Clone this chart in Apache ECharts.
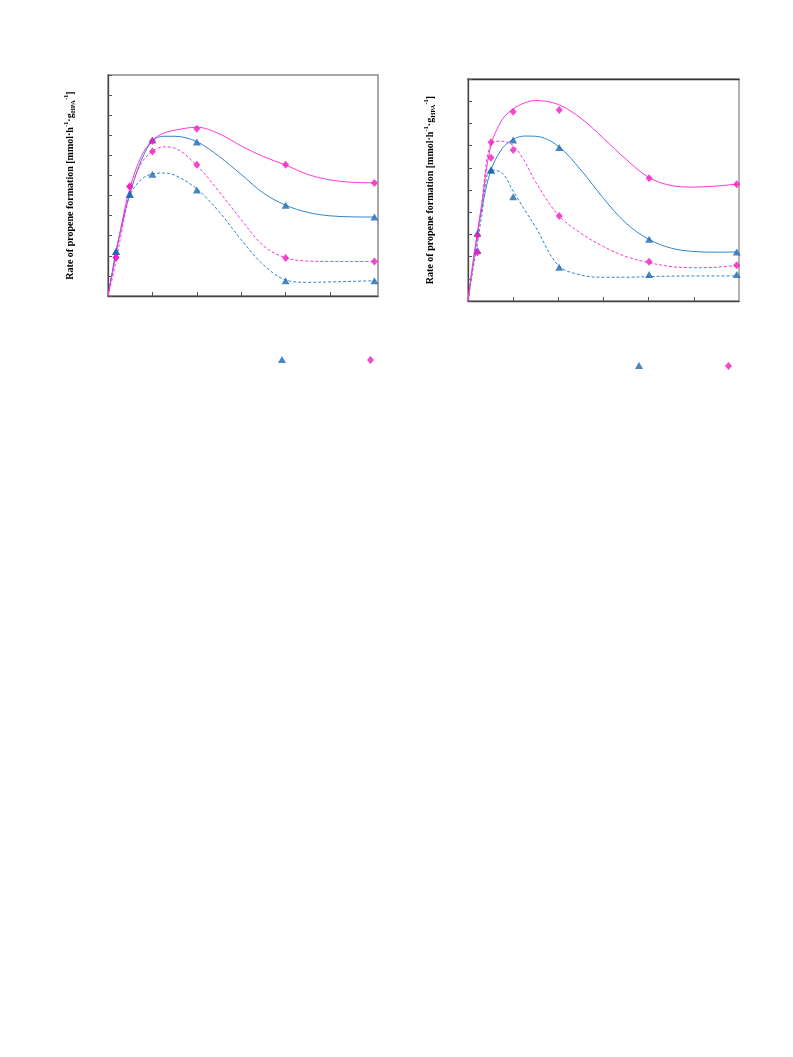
<!DOCTYPE html>
<html>
<head>
<meta charset="utf-8">
<script src="https://cdn.jsdelivr.net/npm/echarts@6/dist/echarts.min.js"></script>
<style>
html,body{margin:0;padding:0;background:#fff;}
#chart{width:793px;height:1057px;}
</style>
</head>
<body>
<div id="chart"></div>
<script>
// ---------- Left panel: measured points ----------
const leftPtX = [0.18, 0.49, 1.0, 2.0, 4.0, 6.0];
const leftBlueSolidPts = [2.22, 5.07, 7.77, 7.67, 4.52, 3.93];
const leftBlueDashPts  = [2.22, 5.07, 6.06, 5.28, 0.76, 0.76];
const leftPinkSolidPts = [1.92, 5.45, 7.72, 8.33, 6.53, 5.62];
const leftPinkDashPts  = [1.92, 5.45, 7.19, 6.53, 1.89, 1.72];

// ---------- Left panel: fitted curves ----------
const leftCurveX = [0, 0.1, 0.18, 0.3, 0.49, 0.75, 1.0, 1.25, 1.5, 2.0, 2.5, 3.0, 3.5, 4.0, 4.5, 5.0, 5.5, 6.0];
const leftBlueSolidCurve = [0, 1.25, 2.22, 3.4, 5.07, 6.75, 7.72, 7.95, 7.95, 7.68, 6.95, 6.05, 5.12, 4.52, 4.16, 3.99, 3.94, 3.93];
const leftBlueDashCurve  = [0, 1.25, 2.22, 3.4, 5.0, 5.8, 6.08, 6.12, 6.02, 5.33, 4.2, 2.8, 1.55, 0.8, 0.68, 0.7, 0.73, 0.76];
const leftPinkSolidCurve = [0, 1.15, 2.05, 3.5, 5.35, 6.95, 7.75, 8.1, 8.25, 8.4, 8.08, 7.47, 6.94, 6.52, 6.05, 5.78, 5.66, 5.63];
const leftPinkDashCurve  = [0, 0.9, 1.75, 3.1, 5.1, 6.6, 7.2, 7.42, 7.36, 6.5, 5.2, 3.8, 2.5, 1.9, 1.74, 1.72, 1.72, 1.72];

// ---------- Right panel: measured points ----------
const rightPtX = [0.21, 0.51, 1.0, 2.02, 4.01, 5.95];
const rightBlueSolidPts = [3.05, 5.9, 7.25, 6.92, 2.78, 2.21];
const rightBlueDashPts  = [2.27, 5.9, 4.7, 1.52, 1.19, 1.19];
const rightPinkSolidPts = [2.95, 6.45, 8.53, 8.6, 5.53, 5.26];
const rightPinkDashPts  = [2.18, 7.15, 6.8, 3.83, 1.77, 1.61];

// ---------- Right panel: fitted curves ----------
const rightCurveX = [0, 0.1, 0.21, 0.3, 0.5, 0.75, 1.0, 1.25, 1.5, 2.0, 2.5, 3.0, 3.5, 4.0, 4.5, 5.0, 5.5, 5.95];
const rightBlueSolidCurve = [0, 1.5, 3.05, 4.1, 5.85, 6.85, 7.28, 7.43, 7.42, 6.97, 5.9, 4.62, 3.5, 2.78, 2.38, 2.23, 2.2, 2.21];
const rightBlueDashCurve  = [0, 1.3, 2.6, 3.8, 5.9, 5.78, 4.95, 4.12, 3.32, 1.6, 1.17, 1.07, 1.07, 1.1, 1.12, 1.13, 1.13, 1.13];
const rightPinkSolidCurve = [0, 1.6, 3.1, 4.3, 6.95, 8.15, 8.65, 8.92, 9.03, 8.85, 8.23, 7.33, 6.38, 5.57, 5.2, 5.13, 5.18, 5.26];
const rightPinkDashCurve  = [0, 1.4, 2.9, 4.3, 7.05, 7.2, 7.0, 6.3, 5.35, 3.87, 3.05, 2.45, 2.0, 1.73, 1.55, 1.5, 1.52, 1.6];

// ---------- Axis settings ----------
const leftXMax = 6.08, leftYMax = 11;
const rightXMax = 6.0, rightYMax = 10;
const xTickValues = [1, 2, 3, 4, 5];

const BLUE_LINE = '#2f86cc';
const BLUE_MARK = '#1a68b2';
const PINK_LINE = '#ff36d8';
const PINK_MARK = '#f01cbf';

function pairs(xs, ys) { return xs.map((x, i) => [x, ys[i]]); }

const yName = '{a|Rate of propene formation [mmol·h}{sup|-1}{a|·g}{sub|HPA}{sup|-1}{a|]}';
const yNameStyle = {
  rich: {
    a: { fontFamily: 'Liberation Serif', fontWeight: 'bold', fontSize: 10, color: '#000', lineHeight: 14 },
    sup: { fontFamily: 'Liberation Serif', fontWeight: 'bold', fontSize: 6.5, color: '#000', verticalAlign: 'top', lineHeight: 14 },
    sub: { fontFamily: 'Liberation Serif', fontWeight: 'bold', fontSize: 6.5, color: '#000', verticalAlign: 'bottom', lineHeight: 14 }
  }
};

function xAxisCfg(grid, max) {
  return {
    gridIndex: grid, type: 'value', min: 0, max: max,
    axisLine: { show: true, onZero: false, lineStyle: { color: '#444', width: 1.3 } },
    axisTick: { show: true, inside: true, length: 4, customValues: xTickValues, lineStyle: { color: '#555', width: 1 } },
    axisLabel: { show: false },
    splitLine: { show: false }
  };
}
function yAxisCfg(grid, max, gap) {
  return {
    gridIndex: grid, type: 'value', min: 0, max: max, interval: 1,
    name: yName, nameLocation: 'middle', nameRotate: 90, nameGap: gap,
    nameTextStyle: yNameStyle,
    axisLine: { show: true, onZero: false, lineStyle: { color: '#444', width: 1.3 } },
    axisTick: { show: true, inside: true, length: 4, lineStyle: { color: '#555', width: 1 } },
    axisLabel: { show: false },
    splitLine: { show: false }
  };
}

function curve(name, xi, yi, xs, ys, color, dashed) {
  return {
    name: name, type: 'line', xAxisIndex: xi, yAxisIndex: yi,
    data: pairs(xs, ys), smooth: 0.35, showSymbol: false, symbol: 'none',
    lineStyle: { color: color, width: 1, type: dashed ? [3, 2] : 'solid' },
    silent: true, z: 2
  };
}
function marks(name, xi, yi, xs, ys, shape) {
  const tri = shape === 'triangle';
  return {
    name: name, type: 'scatter', xAxisIndex: xi, yAxisIndex: yi,
    data: pairs(xs, ys), symbol: tri ? 'triangle' : 'diamond',
    symbolSize: tri ? [8, 7] : [7, 8],
    itemStyle: { color: tri ? BLUE_MARK : PINK_MARK },
    z: 5
  };
}

const chart = echarts.init(document.getElementById('chart'), null, { renderer: 'canvas' });
const option = {
  animation: false,
  backgroundColor: '#fff',
  grid: [
    { left: 108, top: 75, width: 270, height: 221, show: true, borderColor: '#8c8c8c', borderWidth: 1.5, backgroundColor: 'transparent' },
    { left: 468, top: 79, width: 271, height: 222, show: true, borderColor: '#9a9a9a', borderWidth: 1.5, backgroundColor: 'transparent' }
  ],
  xAxis: [
    xAxisCfg(0, leftXMax),
    xAxisCfg(1, rightXMax),
    { gridIndex: 1, type: 'value', position: 'top', min: 0, max: rightXMax,
      axisLine: { show: true, onZero: false, lineStyle: { color: '#333', width: 1.3 } },
      axisTick: { show: false }, axisLabel: { show: false }, splitLine: { show: false } }
  ],
  yAxis: [
    yAxisCfg(0, leftYMax, 31),
    yAxisCfg(1, rightYMax, 31)
  ],
  legend: [
    { data: ['L-tri'], left: 278, top: 356, itemWidth: 8, itemHeight: 7, itemGap: 0, formatter: () => '', selectedMode: false, padding: 0 },
    { data: ['L-dia'], left: 367, top: 356, itemWidth: 7, itemHeight: 8, itemGap: 0, formatter: () => '', selectedMode: false, padding: 0 },
    { data: ['R-tri'], left: 635, top: 362, itemWidth: 8, itemHeight: 7, itemGap: 0, formatter: () => '', selectedMode: false, padding: 0 },
    { data: ['R-dia'], left: 725, top: 362, itemWidth: 7, itemHeight: 8, itemGap: 0, formatter: () => '', selectedMode: false, padding: 0 }
  ],
  series: [
    curve('L-bs', 0, 0, leftCurveX, leftBlueSolidCurve, BLUE_LINE, false),
    curve('L-bd', 0, 0, leftCurveX, leftBlueDashCurve, BLUE_LINE, true),
    curve('L-ps', 0, 0, leftCurveX, leftPinkSolidCurve, PINK_LINE, false),
    curve('L-pd', 0, 0, leftCurveX, leftPinkDashCurve, PINK_LINE, true),
    marks('L-tri', 0, 0, leftPtX, leftBlueSolidPts, 'triangle'),
    marks('L-tri', 0, 0, leftPtX, leftBlueDashPts, 'triangle'),
    marks('L-dia', 0, 0, leftPtX, leftPinkSolidPts, 'diamond'),
    marks('L-dia', 0, 0, leftPtX, leftPinkDashPts, 'diamond'),

    curve('R-bs', 1, 1, rightCurveX, rightBlueSolidCurve, BLUE_LINE, false),
    curve('R-bd', 1, 1, rightCurveX, rightBlueDashCurve, BLUE_LINE, true),
    curve('R-ps', 1, 1, rightCurveX, rightPinkSolidCurve, PINK_LINE, false),
    curve('R-pd', 1, 1, rightCurveX, rightPinkDashCurve, PINK_LINE, true),
    marks('R-tri', 1, 1, rightPtX, rightBlueSolidPts, 'triangle'),
    marks('R-tri', 1, 1, rightPtX, rightBlueDashPts, 'triangle'),
    marks('R-dia', 1, 1, rightPtX, rightPinkSolidPts, 'diamond'),
    marks('R-dia', 1, 1, rightPtX, rightPinkDashPts, 'diamond')
  ]
};
chart.setOption(option);
</script>
</body>
</html>
